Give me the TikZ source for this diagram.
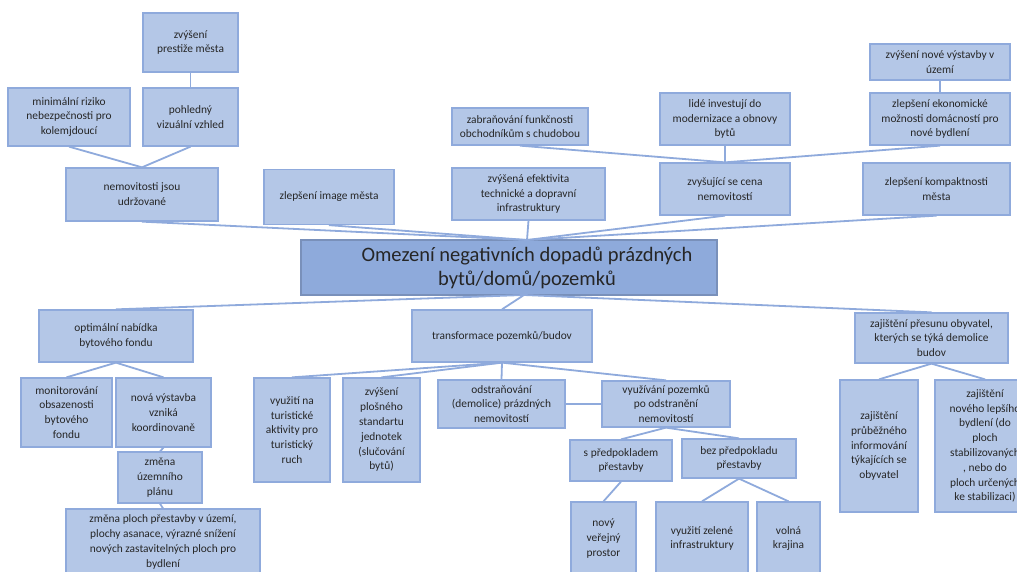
\documentclass[tikz,border=0pt]{standalone}
\usepackage{fontspec}
\setmainfont{Carlito}
\usepackage{xcolor}
\usepackage{tikz}
\usetikzlibrary{positioning}
\definecolor{boxfill}{HTML}{B4C7E7}
\definecolor{boxline}{HTML}{8FAADC}
\definecolor{hubfill}{HTML}{8EAADB}
\definecolor{inktext}{HTML}{262626}
\begin{document}
\begin{tikzpicture}[
  x=1pt, y=-1pt,
  box/.style={rectangle, draw=boxline, fill=boxfill, line width=1.3pt,
              inner sep=1pt, align=center, text=inktext,
              font=\fontsize{11.4}{14.8}\selectfont},
  hub/.style={box, fill=hubfill, draw=hubfill!85!black},
  hubtext/.style={align=center, text=inktext, inner sep=0pt,
                  font=\fontsize{20.5}{24}\selectfont},
  link/.style={draw=boxline, line width=1.8pt},
]
\clip (0,0) rectangle (1017,572);
\fill[white] (0,0) rectangle (1017,572);
% upper half
\node[box, minimum width=95pt, minimum height=59pt] (prest) at (190.5,42.5) {zvýšení\\prestiže města};
\node[box, minimum width=122pt, minimum height=58pt] (minim) at (69,117) {minimální riziko\\nebezpečnosti pro\\kolemjdoucí};
\node[box, minimum width=95pt, minimum height=58pt] (pohl) at (190.5,117) {pohledný\\vizuální vzhled};
\node[box, minimum width=152pt, minimum height=53pt] (nemov) at (142,194.5) {nemovitosti jsou\\udržované};
\node[box, minimum width=130pt, minimum height=55pt] (image) at (329,197) {zlepšení image města};
\node[box, minimum width=136pt, minimum height=37pt] (zabran) at (520,126.5) {zabraňování funkčnosti\\obchodníkům s chudobou};
\node[box, minimum width=153pt, minimum height=52pt] (efekt) at (528.5,194) {zvýšená efektivita\\technické a dopravní\\infrastruktury};
\node[box, minimum width=130pt, minimum height=52pt] (lide) at (725,119) {lidé investují do\\modernizace a obnovy\\bytů};
\node[box, minimum width=140pt, minimum height=36pt] (novevyst) at (940,62) {zvýšení nové výstavby v\\území};
\node[box, minimum width=140pt, minimum height=52pt] (ekon) at (940,119) {zlepšení ekonomické\\možnosti domácností pro\\nové bydlení};
\node[box, minimum width=130pt, minimum height=52pt] (cena) at (725,189) {zvyšující se cena\\nemovitostí};
\node[box, minimum width=147pt, minimum height=52pt] (kompakt) at (936.5,189) {zlepšení kompaktnosti\\města};
% centre
\node[hub, minimum width=416pt, minimum height=55pt,
      label={[hubtext, xshift=18pt]center:Omezení negativních dopadů prázdných\\bytů/domů/pozemků}] (hub) at (509,267.5) {};
\coordinate (hubtop) at (527,240);
\coordinate (hubbot) at (524,295);
% lower half
\node[box, minimum width=154pt, minimum height=52pt] (optim) at (116,336) {optimální nabídka\\bytového fondu};
\node[box, minimum width=91pt, minimum height=69pt] (monit) at (66.5,412.5) {monitorování\\obsazenosti\\bytového\\fondu};
\node[box, minimum width=95pt, minimum height=69pt] (nova) at (163.5,412.5) {nová výstavba\\vzniká\\koordinovaně};
\node[box, minimum width=84pt, minimum height=51pt] (uplan) at (160,477.5) {změna\\územního\\plánu};
\node[box, minimum width=194pt, minimum height=66pt] (ploch) at (163,542) {změna ploch přestavby v území,\\plochy asanace, výrazné snížení\\nových zastavitelných ploch pro\\bydlení};
\node[box, minimum width=180pt, minimum height=52pt] (transf) at (502,336) {transformace pozemků/budov};
\node[box, minimum width=76pt, minimum height=104pt] (turist) at (292,430) {využití na\\turistické\\aktivity pro\\turistický\\ruch};
\node[box, minimum width=77pt, minimum height=104pt] (plosn) at (381.5,430) {zvýšení\\plošného\\standartu\\jednotek\\(slučování\\bytů)};
\node[box, minimum width=127pt, minimum height=48pt] (odstr) at (501.5,404) {odstraňování\\(demolice) prázdných\\nemovitostí};
\node[box, minimum width=128pt, minimum height=46pt] (vyuz) at (666,404) {využívání pozemků\\po odstranění\\nemovitostí};
\node[box, minimum width=102pt, minimum height=41pt] (spred) at (621,460.5) {s předpokladem\\přestavby};
\node[box, minimum width=114pt, minimum height=39pt] (bez) at (739,458.5) {bez předpokladu\\přestavby};
\node[box, minimum width=65pt, minimum height=73pt] (verej) at (603.5,538.5) {nový\\veřejný\\prostor};
\node[box, minimum width=92pt, minimum height=73pt] (zelen) at (702,538.5) {využití zelené\\infrastruktury};
\node[box, minimum width=63pt, minimum height=73pt] (volna) at (788.5,538.5) {volná\\krajina};
\node[box, minimum width=153pt, minimum height=50pt] (presun) at (931.5,338) {zajištění přesunu obyvatel,\\kterých se týká demolice\\budov};
\node[box, minimum width=78pt, minimum height=132pt] (inform) at (879,446) {zajištění\\průběžného\\informování\\týkajících se\\obyvatel};
\node[box, minimum width=100pt, minimum height=132pt] (lepsi) at (985,446) {zajištění\\nového lepšího\\bydlení (do\\ploch\\stabilizovaných\\, nebo do\\ploch určených\\ke stabilizaci)};
% connectors
\draw[link] (prest.south) -- (pohl.north);
\draw[link] (minim.south) -- (nemov.north);
\draw[link] (pohl.south) -- (nemov.north);
\draw[link] (nemov.south) -- (hubtop);
\draw[link] (image.south) -- (hubtop);
\draw[link] (efekt.south) -- (hubtop);
\draw[link] (cena.south) -- (hubtop);
\draw[link] (kompakt.south) -- (hubtop);
\draw[link] (zabran.south) -- (cena.north);
\draw[link] (lide.south) -- (cena.north);
\draw[link] (ekon.south) -- (cena.north);
\draw[link] (novevyst.south) -- (ekon.north);
\draw[link] (hubbot) -- (optim.north);
\draw[link] (hubbot) -- (transf.north);
\draw[link] (hubbot) -- (presun.north);
\draw[link] (optim.south) -- (monit.north);
\draw[link] (optim.south) -- (nova.north);
\draw[link] (nova.south) -- (uplan.north);
\draw[link] (uplan.south) -- (ploch.north);
\draw[link] (transf.south) -- (turist.north);
\draw[link] (transf.south) -- (plosn.north);
\draw[link] (transf.south) -- (odstr.north);
\draw[link] (transf.south) -- (vyuz.north);
\draw[link] (odstr.east) -- (vyuz.west);
\draw[link] (vyuz.south) -- (spred.north);
\draw[link] (vyuz.south) -- (bez.north);
\draw[link] (spred.south) -- (verej.north);
\draw[link] (bez.south) -- (zelen.north);
\draw[link] (bez.south) -- (volna.north);
\draw[link] (presun.south) -- (inform.north);
\draw[link] (presun.south) -- (lepsi.north);
\end{tikzpicture}
\end{document}
